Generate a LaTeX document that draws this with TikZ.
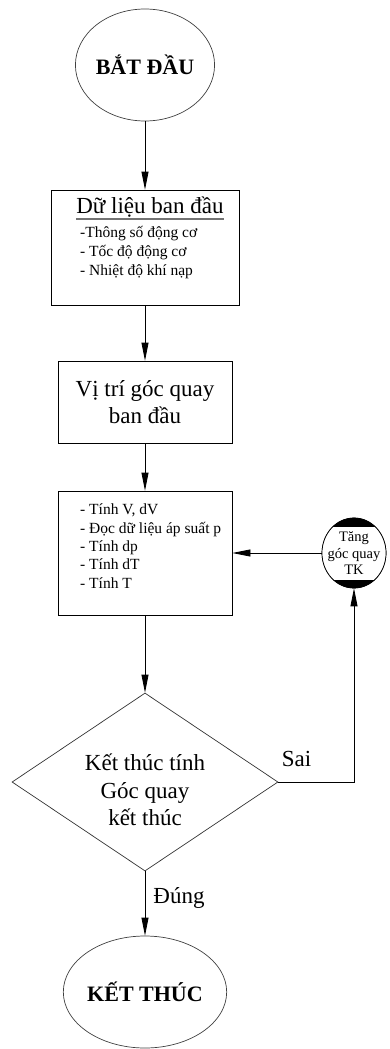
\documentclass[tikz,border=0pt]{standalone}
\usepackage{fontspec}
\setmainfont{Liberation Serif}
\usetikzlibrary{shapes.geometric,arrows.meta}

\tikzset{
  flow/.style={draw, line width=0.8pt, -{Triangle[length=18pt,width=7pt]}},
  termbox/.style={ellipse, draw=black!75, line width=0.7pt, minimum width=136pt, minimum height=112pt, inner sep=0pt, font=\fontsize{22}{26}\selectfont\bfseries},
  stepbox/.style={rectangle, draw, line width=0.8pt, inner sep=0pt},
  bigtext/.style={font=\fontsize{23}{27.5}\selectfont},
  smalltext/.style={font=\fontsize{15.5}{18.5}\selectfont, align=left, inner sep=0pt}
}

\begin{document}
\begin{tikzpicture}[x=1pt,y=-1pt]
\useasboundingbox (0,0) rectangle (389,1049);
\node[termbox] (start) at (145,65) {BẮT ĐẦU}; % start
\node[stepbox, minimum width=188pt, minimum height=115pt] (data) at (145,247.5) {}; % data
\node[bigtext, inner sep=0pt, anchor=base] (datatitle) at (150,213) {Dữ liệu ban đầu};
\draw[black!55, line width=1.5pt] ([yshift=-6pt]datatitle.base west) -- ([yshift=-6pt]datatitle.base east);
\node[smalltext, font=\fontsize{15.5}{19}\selectfont, anchor=base west] (datalist) at (80,275) {-Thông số động cơ\\- Tốc độ động cơ\\- Nhiệt độ khí nạp};
\node[stepbox, bigtext, align=center, minimum width=174pt, minimum height=82pt] (init) at (145,402) {Vị trí góc quay\\ban đầu}; % init
\node[stepbox, minimum width=174pt, minimum height=124pt] (calc) at (145,553) {}; % calc
\node[smalltext, font=\fontsize{15.5}{18.3}\selectfont, anchor=base west] (calclist) at (80,588) {- Tính V, dV\\- Đọc dữ liệu áp suất p\\- Tính dp\\- Tính dT\\- Tính T};
\node[ellipse, draw, fill=black, line width=0.7pt, minimum width=64pt, minimum height=70pt, inner sep=0pt] (inc) at (354,553) {}; % inc
\begin{scope}
  \clip (inc.center) ellipse [x radius=32pt, y radius=35pt];
  \fill[white] ([yshift=26pt]inc.west) rectangle ([yshift=-27pt]inc.east);
\end{scope}
\draw[line width=0.7pt] (inc.center) ellipse [x radius=32pt, y radius=35pt];
\node[smalltext, align=center, yshift=-0.5pt, font=\fontsize{14.5}{16.5}\selectfont] (inctext) at (inc) {Tăng\\góc quay\\TK};
\node[diamond, draw=black!80, line width=0.7pt, minimum width=266pt, minimum height=178pt, inner sep=0pt,
  label={[bigtext, align=center, yshift=-8pt]center:Kết thúc tính\\Góc quay\\kết thúc}] (dec) at (145,782) {}; % dec
\node[termbox] (end) at (145,992) {KẾT THÚC}; % end

\draw[flow] (start) -- (data);
\draw[flow] (data) -- (init);
\draw[flow] (init) -- (calc);
\draw[flow] (calc) -- (dec);
\draw[flow] (dec) -- node[bigtext, pos=0.5, anchor=base west, inner sep=0pt, xshift=8pt] {Đúng} (end);
\draw[flow] (dec.east) -| node[bigtext, pos=0, anchor=base west, inner sep=0pt, xshift=3pt, yshift=16pt] {Sai} (inc.south);
\draw[flow] (inc) -- (calc);
\end{tikzpicture}
\end{document}
